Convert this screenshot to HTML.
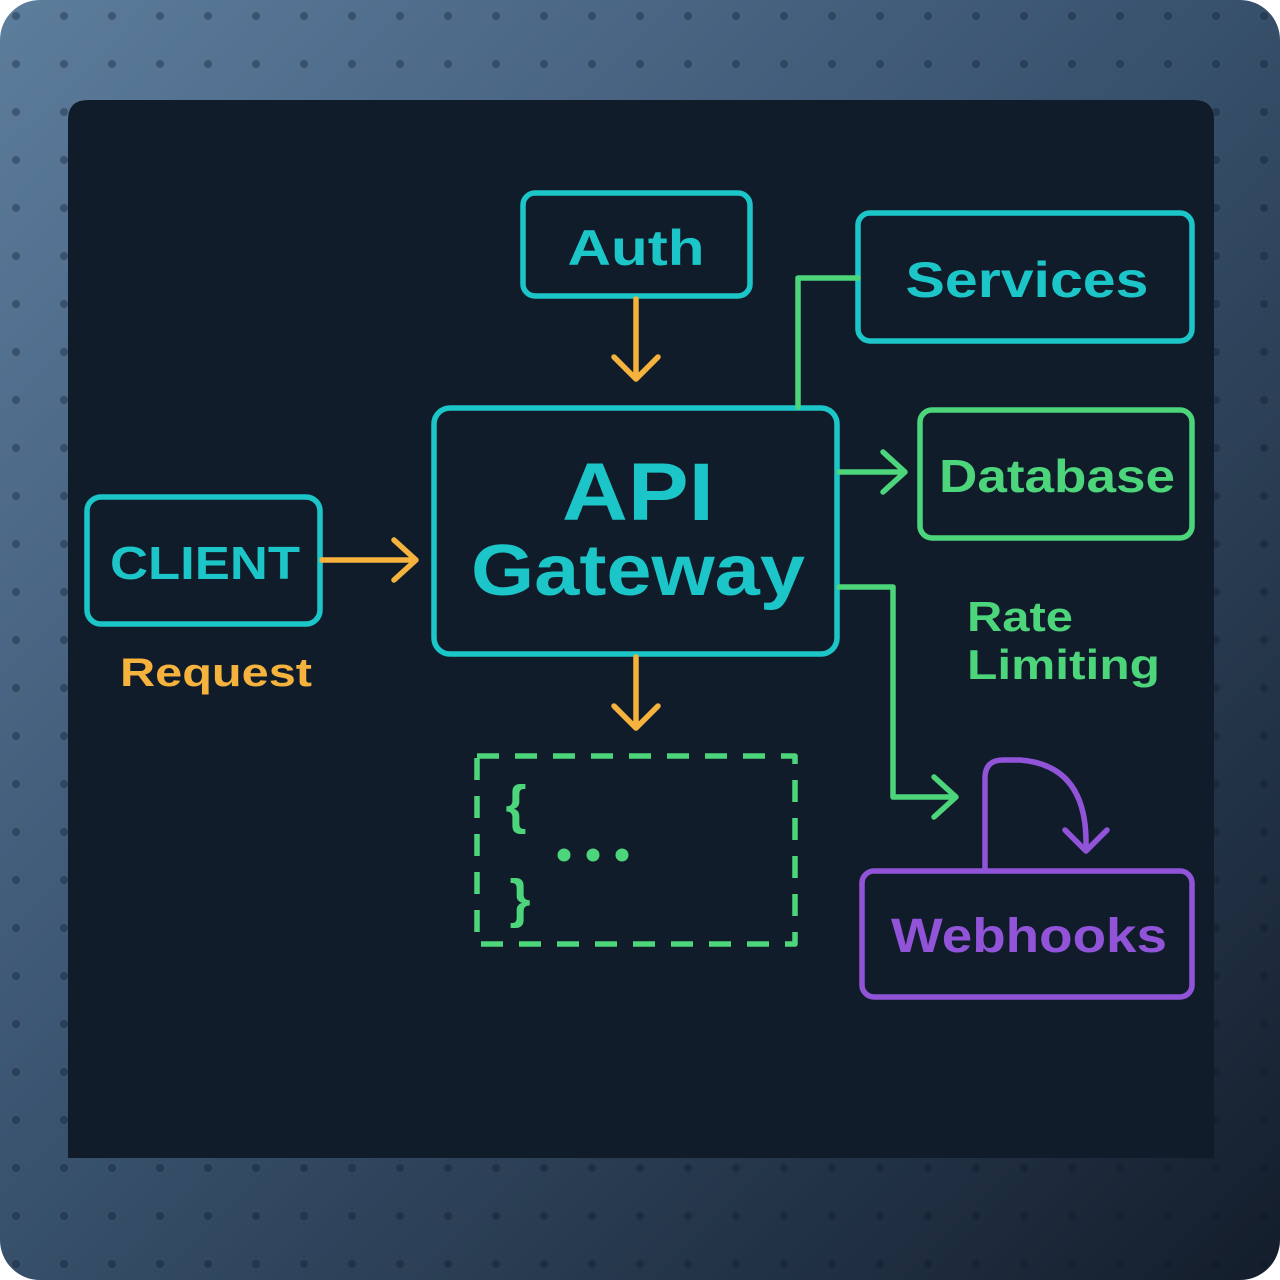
<!DOCTYPE html>
<html><head><meta charset="utf-8"><style>
html,body{margin:0;padding:0;background:#fff;}
svg{display:block;}
text{font-family:"Liberation Sans",sans-serif;font-weight:bold;}
</style></head><body>
<svg width="1280" height="1280" viewBox="0 0 1280 1280" xmlns="http://www.w3.org/2000/svg">
<defs>
<linearGradient id="bg" x1="0" y1="0" x2="1" y2="1">
<stop offset="0" stop-color="#5d7d9d"/>
<stop offset="0.45" stop-color="#3a5470"/>
<stop offset="1" stop-color="#131d2b"/>
</linearGradient>
<pattern id="dots" x="0" y="0" width="48" height="48" patternUnits="userSpaceOnUse">
<circle cx="16" cy="16" r="4" fill="#0c1624" fill-opacity="0.35"/>
</pattern>
</defs>
<rect x="0" y="0" width="1280" height="1280" rx="40" fill="url(#bg)"/>
<rect x="0" y="0" width="1280" height="1280" rx="40" fill="url(#dots)"/>
<path d="M88 100 H1194 Q1214 100 1214 120 V1158 H68 V120 Q68 100 88 100 Z" fill="#101c2a"/>

<g fill="none" stroke-width="5.5" stroke-linecap="round" stroke-linejoin="round">
<rect x="523" y="193" width="227" height="103" rx="12" stroke="#1cc6c8"/>
<rect x="858" y="213" width="334" height="128" rx="12" stroke="#1cc6c8"/>
<rect x="434" y="408" width="403" height="246" rx="16" stroke="#1cc6c8"/>
<rect x="87" y="497" width="233" height="127" rx="14" stroke="#1cc6c8"/>
<rect x="920" y="410" width="272" height="128" rx="12" stroke="#4cd57a"/>
<rect x="862" y="871" width="330" height="126" rx="12" stroke="#9154d9"/>
<rect x="477" y="756" width="318" height="188" stroke="#4cd57a" stroke-dasharray="22 16" stroke-linecap="butt"/>
<path d="M636 299 V378 M614 357 L636 379 L658 357" stroke="#f5b23d"/>
<path d="M322 560 H415 M394 540 L416 560 L394 580" stroke="#f5b23d"/>
<path d="M636 657 V727 M614 706 L636 728 L658 706" stroke="#f5b23d"/>
<path d="M798 407 V278 H858" stroke="#4cd57a"/>
<path d="M839 472 H904 M883 452 L905 472 L883 492" stroke="#4cd57a"/>
<path d="M839 587 H893 V797 H955 M934 777 L956 797 L934 817" stroke="#4cd57a"/>
<path d="M985 869 V778 Q985 760 1003 760 H1020 Q1085 765 1086 840 V850 M1065 830 L1086 851 L1107 830" stroke="#9154d9"/>
</g>

<text x="636" y="265" font-size="50" fill="#1cc6c8" text-anchor="middle" textLength="137" lengthAdjust="spacingAndGlyphs">Auth</text>
<text x="1027" y="297" font-size="50" fill="#1cc6c8" text-anchor="middle" textLength="243" lengthAdjust="spacingAndGlyphs">Services</text>
<text x="638" y="520" font-size="82" fill="#1cc6c8" text-anchor="middle" textLength="152" lengthAdjust="spacingAndGlyphs">API</text>
<text x="638" y="595" font-size="72" fill="#1cc6c8" text-anchor="middle" textLength="334" lengthAdjust="spacingAndGlyphs">Gateway</text>
<text x="205" y="579" font-size="46" fill="#1cc6c8" text-anchor="middle" textLength="190" lengthAdjust="spacingAndGlyphs">CLIENT</text>
<text x="120" y="686" font-size="40" fill="#f5b23d" textLength="192" lengthAdjust="spacingAndGlyphs">Request</text>
<text x="1057" y="492" font-size="46" fill="#4cd57a" text-anchor="middle" textLength="236" lengthAdjust="spacingAndGlyphs">Database</text>
<text x="967" y="631" font-size="42" fill="#4cd57a" textLength="106" lengthAdjust="spacingAndGlyphs">Rate</text>
<text x="967" y="679" font-size="42" fill="#4cd57a" textLength="193" lengthAdjust="spacingAndGlyphs">Limiting</text>
<text x="1029" y="952" font-size="48" fill="#9154d9" text-anchor="middle" textLength="276" lengthAdjust="spacingAndGlyphs">Webhooks</text>
<text x="516" y="823" font-size="54" fill="#4cd57a" text-anchor="middle">{</text>
<text x="520" y="917" font-size="54" fill="#4cd57a" text-anchor="middle">}</text>
<circle cx="564" cy="855" r="6.5" fill="#4cd57a"/>
<circle cx="593" cy="855" r="6.5" fill="#4cd57a"/>
<circle cx="622" cy="855" r="6.5" fill="#4cd57a"/>
</svg>
</body></html>
